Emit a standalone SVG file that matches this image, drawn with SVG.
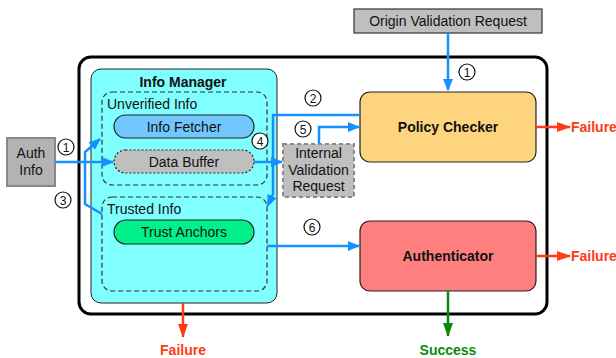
<svg xmlns="http://www.w3.org/2000/svg" width="616" height="358" viewBox="0 0 616 358">
<defs>
<style>
text{font-family:"Liberation Sans",Arial,Helvetica,sans-serif;font-size:14px;fill:#111}
.b{font-weight:bold}
.c{text-anchor:middle}
.blue{fill:none;stroke:#1591ff;stroke-width:2.5}
.red{fill:none;stroke:#ff3a14;stroke-width:2.5}
.green{fill:none;stroke:#0a8a0a;stroke-width:2.5}
.num circle{fill:#fff;stroke:#111;stroke-width:1.2}
.num text{font-size:12px;text-anchor:middle}
.dash{fill:none;stroke:#333;stroke-width:1.2;stroke-dasharray:5 3}
</style>
<marker id="ab" viewBox="0 0 12 10" refX="11" refY="5" markerWidth="12" markerHeight="10" orient="auto" markerUnits="userSpaceOnUse"><path d="M0,0 L12,5 L0,10z" fill="#1591ff"/></marker>
<marker id="ar" viewBox="0 0 14 10" refX="13" refY="5" markerWidth="14" markerHeight="10" orient="auto" markerUnits="userSpaceOnUse"><path d="M0,0 L14,5 L0,10z" fill="#ff3a14"/></marker>
<marker id="ag" viewBox="0 0 14 10" refX="13" refY="5" markerWidth="14" markerHeight="10" orient="auto" markerUnits="userSpaceOnUse"><path d="M0,0 L14,5 L0,10z" fill="#0a8a0a"/></marker>
</defs>
<rect width="616" height="358" fill="#fff"/>

<g id="system"><rect x="79" y="57" width="468" height="257" rx="12" fill="#fff" stroke="#000" stroke-width="3"/></g>

<g id="origin-request">
<rect x="354" y="9" width="188" height="24" fill="#bfbfbf" stroke="#333" stroke-width="1.2"/>
<text x="448" y="26" class="c">Origin Validation Request</text>
</g>

<g id="auth-info">
<rect x="7" y="138" width="48" height="48" fill="#b3b3b3" stroke="#888" stroke-width="2"/>
<text x="31" y="158" class="c">Auth</text>
<text x="31" y="175" class="c">Info</text>
</g>

<g id="info-manager">
<rect x="91" y="69" width="186" height="234" rx="10" fill="#80ffff" stroke="#222" stroke-width="1"/>
<text x="183" y="87" class="b c">Info Manager</text>
</g>

<g id="unverified-info">
<rect x="102" y="92" width="165" height="93" rx="10" class="dash"/>
<text x="107" y="109">Unverified Info</text>
</g>

<g id="info-fetcher">
<rect x="114" y="115" width="140" height="23" rx="11.5" fill="#73c7ff" stroke="#222" stroke-width="1.2"/>
<text x="184" y="131.5" class="c">Info Fetcher</text>
</g>

<g id="data-buffer">
<rect x="114" y="150" width="140" height="23" rx="11.5" fill="#bfbfbf" stroke="#222" stroke-width="1.2" stroke-dasharray="2 2"/>
<text x="184" y="166.5" class="c">Data Buffer</text>
</g>

<g id="trusted-info">
<rect x="102" y="197" width="165" height="94" rx="10" class="dash"/>
<text x="107" y="214">Trusted Info</text>
</g>

<g id="trust-anchors">
<rect x="114" y="220" width="140" height="24" rx="12" fill="#00f08a" stroke="#222" stroke-width="1.2"/>
<text x="184" y="237" class="c">Trust Anchors</text>
</g>

<g id="internal-request">
<rect x="283" y="144" width="71" height="53" fill="#bfbfbf" stroke="#8a8a8a" stroke-width="2" stroke-dasharray="4 3"/>
<text x="318.5" y="158" class="c">Internal</text>
<text x="318.5" y="175" class="c">Validation</text>
<text x="318.5" y="191" class="c">Request</text>
</g>

<g id="policy-checker">
<rect x="360" y="92" width="176" height="70" rx="10" fill="#ffd47f" stroke="#222" stroke-width="1.2"/>
<text x="448" y="132" class="b c">Policy Checker</text>
</g>

<g id="authenticator">
<rect x="360" y="221" width="176" height="70" rx="10" fill="#ff7f7f" stroke="#222" stroke-width="1.2"/>
<text x="448" y="261" class="b c">Authenticator</text>
</g>

<g id="connectors">
<path class="blue" d="M448 33 V90" marker-end="url(#ab)"/>
<path class="blue" d="M360 115 H273 V194 L267.5 206" marker-end="url(#ab)"/>
<path class="blue" d="M55 162 H113" marker-end="url(#ab)"/>
<path class="blue" d="M102 214 L85 204 V152 L100 139" marker-end="url(#ab)"/>
<path class="blue" d="M254 162 H282" marker-end="url(#ab)"/>
<path class="blue" d="M319 144 V127 H359" marker-end="url(#ab)"/>
<path class="blue" d="M267 246 H359" marker-end="url(#ab)"/>
<path class="red" d="M536 127 H570" marker-end="url(#ar)"/>
<path class="red" d="M536 256 H570" marker-end="url(#ar)"/>
<path class="red" d="M183 303 V337" marker-end="url(#ar)"/>
<path class="green" d="M448 291 V336" marker-end="url(#ag)"/>
</g>

<g id="labels">
<g class="num"><circle cx="66" cy="147" r="8"/><text x="66" y="151.5">1</text></g>
<g class="num"><circle cx="63" cy="200" r="8"/><text x="63" y="204.5">3</text></g>
<g class="num"><circle cx="260" cy="141" r="8"/><text x="260" y="145.5">4</text></g>
<g class="num"><circle cx="313" cy="98" r="8"/><text x="313" y="102.5">2</text></g>
<g class="num"><circle cx="303" cy="129" r="8"/><text x="303" y="133.5">5</text></g>
<g class="num"><circle cx="467" cy="72" r="8"/><text x="467" y="76.5">1</text></g>
<g class="num"><circle cx="312" cy="227" r="8"/><text x="312" y="231.5">6</text></g>
<text x="571" y="132" class="b" style="fill:#ff3a14">Failure</text>
<text x="571" y="261" class="b" style="fill:#ff3a14">Failure</text>
<text x="183" y="355" class="b c" style="fill:#ff3a14">Failure</text>
<text x="448" y="355" class="b c" style="fill:#0a8a0a">Success</text>
</g>
</svg>
